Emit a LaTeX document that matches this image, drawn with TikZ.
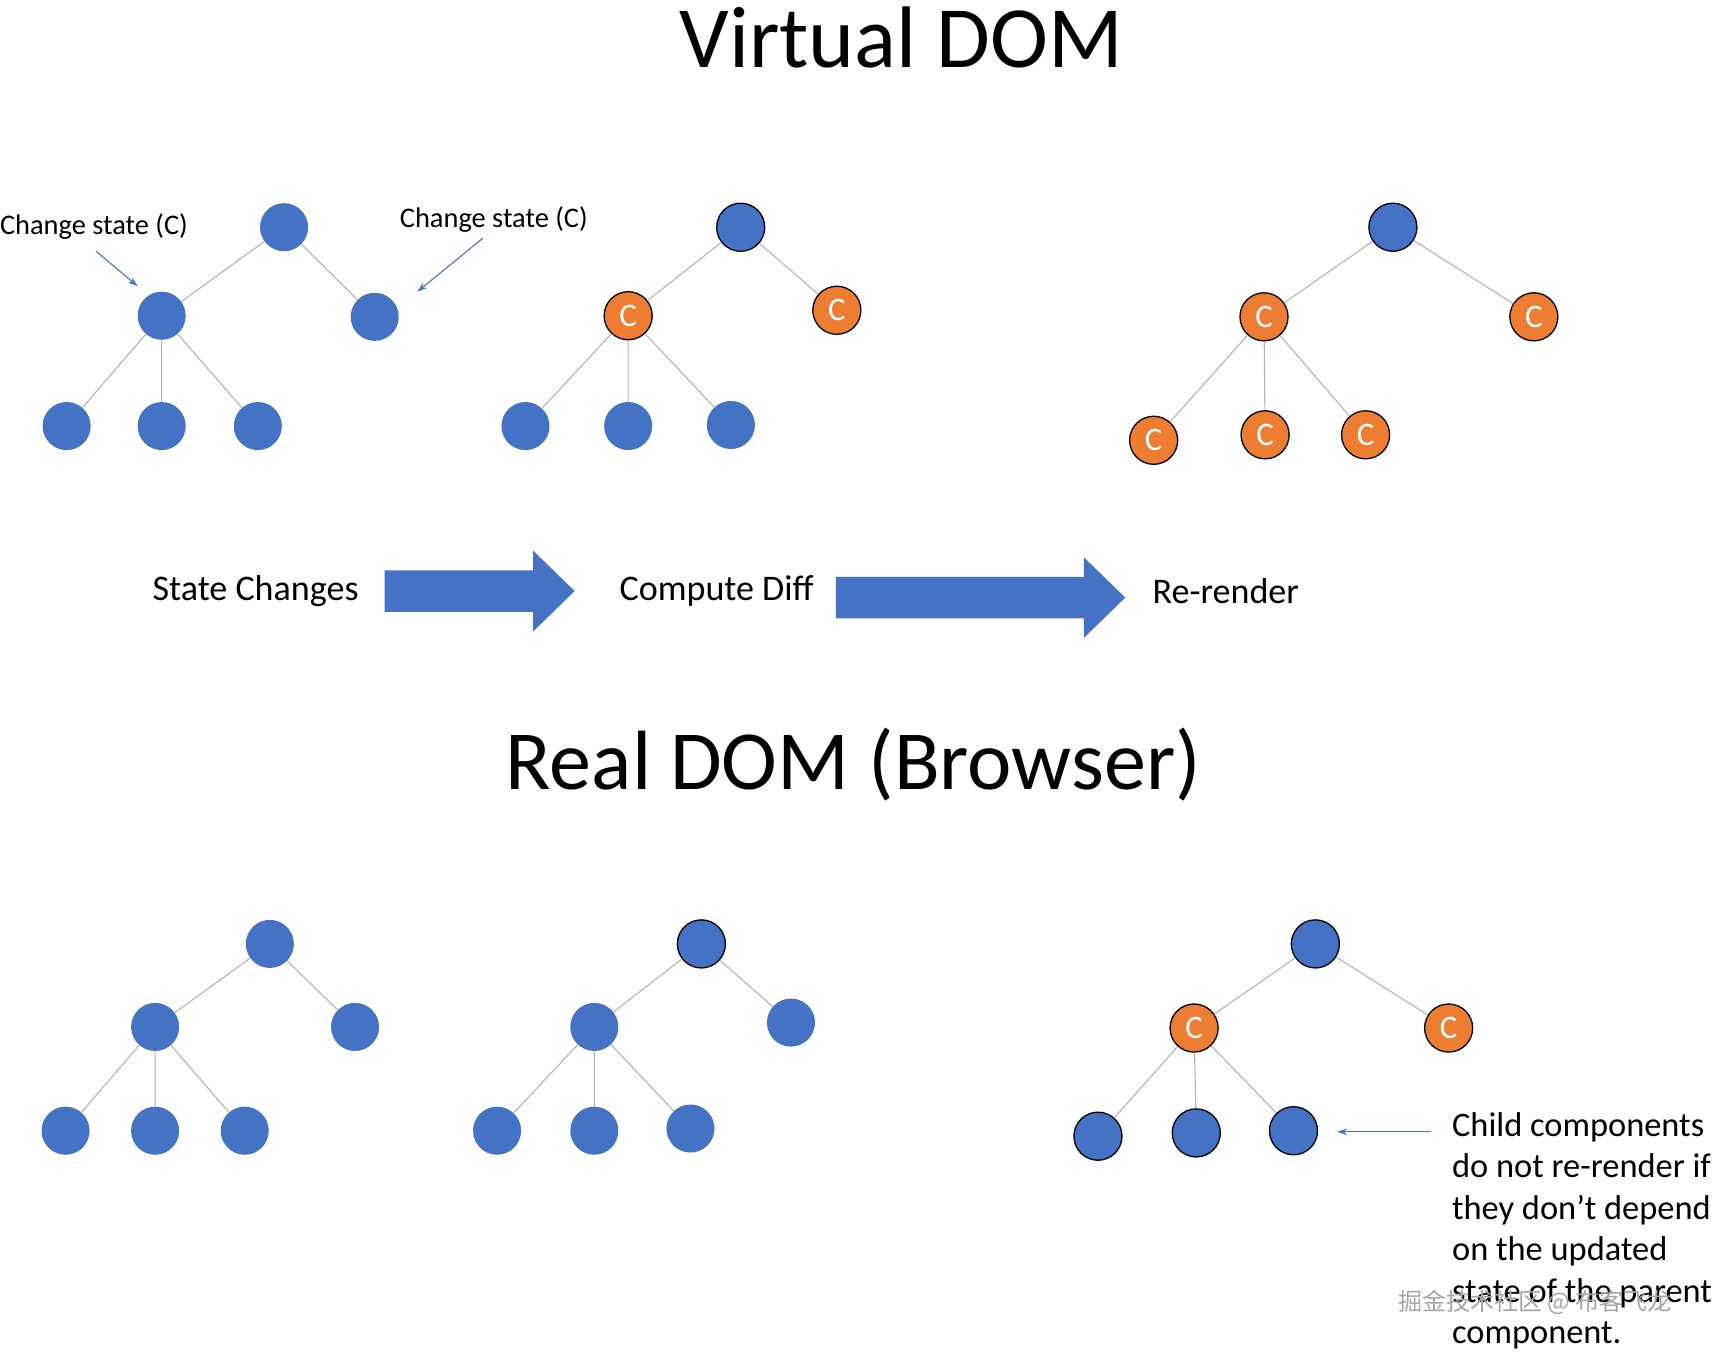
\documentclass[tikz,border=0pt]{standalone}
\usepackage{fontspec}
\setmainfont{Carlito}
\newfontfamily\cjk{Noto Sans CJK SC}
\usetikzlibrary{arrows.meta}
\definecolor{nb}{HTML}{4472C4}
\definecolor{no}{HTML}{ED7D31}
\begin{document}
\begin{tikzpicture}[x=1pt,y=-1pt,
  n/.style={circle,fill=nb,minimum size=44pt,inner sep=0pt},
  nk/.style={n,draw=black,line width=1.2pt},
  c/.style={circle,fill=no,draw=black,line width=1.2pt,minimum size=44pt,inner sep=0pt,text=white,font=\fontsize{30}{32}\selectfont},
  e/.style={draw=gray!60,line width=1pt},
  lab/.style={font=\fontsize{26}{28}\selectfont},
  mid/.style={font=\fontsize{33}{36}\selectfont},
  big/.style={font=\fontsize{80}{86}\selectfont},
  sa/.style={-{Stealth[length=9pt,width=6pt]},draw=nb,line width=1pt},
  fat/.style={fill=nb}]
\useasboundingbox (0,0) rectangle (1568,1237);
\node[big] (t1) at (825,34) {Virtual DOM};
\node[big,font=\fontsize{77}{82}\selectfont] (t2) at (781,700) {Real DOM (Browser)};
% tree 1
\node[n] (a0) at (260,208) {}; \node[n] (a1) at (148,289) {}; \node[n] (a2) at (343,290) {};
\node[n] (a3) at (61,390) {}; \node[n] (a4) at (148,390) {}; \node[n] (a5) at (236,390) {};
\draw[e] (a0)--(a1) (a0)--(a2) (a1)--(a3) (a1)--(a4) (a1)--(a5);
\node[lab] (l1) at (86,207) {Change state (C)};
\node[lab] (l2) at (452,201) {Change state (C)};
\coordinate (p1) at (88,230); \coordinate (q1) at (126,262);
\coordinate (p2) at (442,218); \coordinate (q2) at (382,267);
\draw[sa] (p1)--(q1); \draw[sa] (p2)--(q2);
% tree 2
\node[nk] (b0) at (678,208) {}; \node[c] (b1) at (575,289) {C}; \node[c] (b2) at (766,284) {C};
\node[n] (b3) at (481,390) {}; \node[n] (b4) at (575,390) {}; \node[n] (b5) at (669,389) {};
\draw[e] (b0)--(b1) (b0)--(b2) (b1)--(b3) (b1)--(b4) (b1)--(b5);
% tree 3
\node[nk] (c0) at (1275,208) {}; \node[c] (c1) at (1157,290) {C}; \node[c] (c2) at (1404,290) {C};
\node[c] (c3) at (1056,403) {C}; \node[c] (c4) at (1158,398) {C}; \node[c] (c5) at (1250,398) {C};
\draw[e] (c0)--(c1) (c0)--(c2) (c1)--(c3) (c1)--(c4) (c1)--(c5);
% flow
\node[mid] (s1) at (234,541) {State Changes};
\node[mid] (s2) at (656,541) {Compute Diff};
\node[mid] (s3) at (1122,541) {Re-render};
\fill[fat] (352,522) -- (488,522) -- (488,504) -- (526,541) -- (488,578) -- (488,560) -- (352,560) -- cycle;
\fill[fat] (765,528) -- (992,528) -- (992,510) -- (1030,547) -- (992,584) -- (992,566) -- (765,566) -- cycle;
% real tree 1
\node[n] (d0) at (247,864) {}; \node[n] (d1) at (142,940) {}; \node[n] (d2) at (325,940) {};
\node[n] (d3) at (60,1035) {}; \node[n] (d4) at (142,1035) {}; \node[n] (d5) at (224,1035) {};
\draw[e] (d0)--(d1) (d0)--(d2) (d1)--(d3) (d1)--(d4) (d1)--(d5);
% real tree 2
\node[nk] (f0) at (642,864) {}; \node[n] (f1) at (544,940) {}; \node[n] (f2) at (724,936) {};
\node[n] (f3) at (455,1035) {}; \node[n] (f4) at (544,1035) {}; \node[n] (f5) at (632,1033) {};
\draw[e] (f0)--(f1) (f0)--(f2) (f1)--(f3) (f1)--(f4) (f1)--(f5);
% real tree 3
\node[nk] (g0) at (1204,864) {}; \node[c] (g1) at (1093,941) {C}; \node[c] (g2) at (1326,941) {C};
\node[nk] (g3) at (1005,1040) {}; \node[nk] (g4) at (1095,1037) {}; \node[nk] (g5) at (1184,1035) {};
\draw[e] (g0)--(g1) (g0)--(g2) (g1)--(g3) (g1)--(g4) (g1)--(g5);
\coordinate (p3) at (1310,1036); \coordinate (q3) at (1224,1036);
\draw[sa] (p3)--(q3);
\node[font=\fontsize{31.5}{38}\selectfont,anchor=north west,align=left,inner sep=0pt] (txt) at (1329,1018)
 {Child components\\do not re-render if\\they don’t depend\\on the updated\\state of the parent\\component.};
\node[font=\cjk\fontsize{22}{24}\selectfont,text=gray!70] (wm) at (1405,1192) {掘金技术社区 @ 布客飞龙};
\end{tikzpicture}
\end{document}
